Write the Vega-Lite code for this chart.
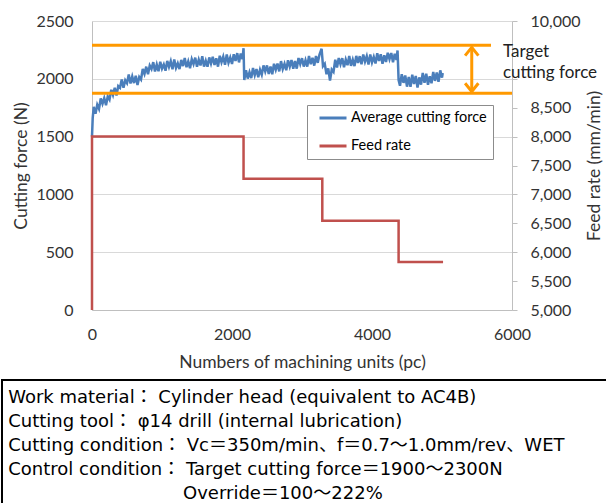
{
  "$schema": "https://vega.github.io/schema/vega-lite/v6.json",
  "padding": {"left": 1, "top": 13, "right": 0, "bottom": 0},
  "background": "white",
  "config": {
    "font": "Lato",
    "view": {"stroke": null},
    "axis": {
      "labelFont": "Lato", "labelFontSize": 16, "labelColor": "#333333",
      "titleFont": "Lato", "titleFontSize": 17.5, "titleFontWeight": "normal", "titleColor": "#333333",
      "domainColor": "#BFBFBF", "gridColor": "#D9D9D9", "tickColor": "#BFBFBF"
    }
  },
  "spacing": 8,
  "vconcat": [
    {
      "spacing": 0,
      "hconcat": [
        {
          "width": 10, "height": 1,
          "view": {"stroke": null},
          "data": {"values": []},
          "mark": "point"
        },
        {
          "width": 420, "height": 289,
          "resolve": {"scale": {"y": "independent"}},
          "layer": [
            {
              "layer": [
                {
                  "data": {"values": [
{"n":0,"f":1500},{"n":10,"f":1660},{"n":25,"f":1758},{"n":50,"f":1698},{"n":75,"f":1775},{"n":100,"f":1740},{"n":125,"f":1830},{"n":150,"f":1783},{"n":175,"f":1833},{"n":200,"f":1772},
{"n":225,"f":1848},{"n":250,"f":1820},{"n":275,"f":1905},{"n":300,"f":1860},{"n":325,"f":1923},{"n":350,"f":1855},{"n":375,"f":1937},{"n":400,"f":1922},{"n":425,"f":1993},{"n":450,"f":1922},
{"n":475,"f":1987},{"n":500,"f":1962},{"n":525,"f":2037},{"n":550,"f":1960},{"n":575,"f":2020},{"n":600,"f":1963},{"n":625,"f":2026},{"n":650,"f":1946},{"n":675,"f":2015},{"n":700,"f":1994},
{"n":725,"f":2085},{"n":750,"f":2042},{"n":775,"f":2105},{"n":800,"f":2039},{"n":825,"f":2115},{"n":850,"f":2085},{"n":875,"f":2144},{"n":900,"f":2064},{"n":925,"f":2123},{"n":950,"f":2065},
{"n":975,"f":2148},{"n":1000,"f":2088},{"n":1025,"f":2124},{"n":1050,"f":2070},{"n":1075,"f":2155},{"n":1100,"f":2103},{"n":1125,"f":2152},{"n":1150,"f":2082},{"n":1175,"f":2168},{"n":1200,"f":2094},
{"n":1225,"f":2133},{"n":1250,"f":2084},{"n":1275,"f":2163},{"n":1300,"f":2110},{"n":1325,"f":2180},{"n":1350,"f":2100},{"n":1375,"f":2151},{"n":1400,"f":2092},{"n":1425,"f":2170},{"n":1450,"f":2128},
{"n":1475,"f":2183},{"n":1500,"f":2104},{"n":1525,"f":2165},{"n":1550,"f":2116},{"n":1575,"f":2195},{"n":1600,"f":2106},{"n":1625,"f":2157},{"n":1650,"f":2104},{"n":1675,"f":2185},{"n":1700,"f":2132},
{"n":1725,"f":2190},{"n":1750,"f":2120},{"n":1775,"f":2178},{"n":1800,"f":2105},{"n":1825,"f":2199},{"n":1850,"f":2143},{"n":1875,"f":2192},{"n":1900,"f":2122},{"n":1925,"f":2211},{"n":1950,"f":2139},
{"n":1975,"f":2184},{"n":2000,"f":2128},{"n":2025,"f":2212},{"n":2050,"f":2154},{"n":2075,"f":2222},{"n":2100,"f":2142},{"n":2125,"f":2218},{"n":2150,"f":2170},{"n":2165,"f":2265},{"n":2175,"f":1990},
{"n":2200,"f":2075},{"n":2225,"f":2002},{"n":2250,"f":2057},{"n":2275,"f":2006},{"n":2300,"f":2094},{"n":2325,"f":2032},{"n":2350,"f":2085},{"n":2375,"f":2013},{"n":2400,"f":2078},{"n":2425,"f":2035},
{"n":2450,"f":2116},{"n":2475,"f":2063},{"n":2500,"f":2116},{"n":2525,"f":2042},{"n":2550,"f":2107},{"n":2575,"f":2040},{"n":2600,"f":2130},{"n":2625,"f":2079},{"n":2650,"f":2132},{"n":2675,"f":2064},
{"n":2700,"f":2153},{"n":2725,"f":2084},{"n":2750,"f":2129},{"n":2775,"f":2074},{"n":2800,"f":2160},{"n":2825,"f":2106},{"n":2850,"f":2162},{"n":2875,"f":2088},{"n":2900,"f":2154},{"n":2925,"f":2088},
{"n":2950,"f":2180},{"n":2975,"f":2128},{"n":3000,"f":2178},{"n":3025,"f":2106},{"n":3050,"f":2161},{"n":3075,"f":2105},{"n":3100,"f":2198},{"n":3125,"f":2126},{"n":3150,"f":2182},{"n":3175,"f":2114},
{"n":3200,"f":2197},{"n":3225,"f":2138},{"n":3250,"f":2210},{"n":3280,"f":2260},{"n":3300,"f":2110},{"n":3325,"f":2130},{"n":3350,"f":2040},{"n":3375,"f":2090},{"n":3400,"f":1985},{"n":3425,"f":2080},
{"n":3450,"f":2060},{"n":3475,"f":2165},{"n":3500,"f":2097},{"n":3525,"f":2180},{"n":3550,"f":2126},{"n":3575,"f":2178},{"n":3600,"f":2100},{"n":3625,"f":2166},{"n":3650,"f":2118},{"n":3675,"f":2198},
{"n":3700,"f":2112},{"n":3725,"f":2166},{"n":3750,"f":2110},{"n":3775,"f":2198},{"n":3800,"f":2138},{"n":3825,"f":2196},{"n":3850,"f":2125},{"n":3875,"f":2210},{"n":3900,"f":2149},{"n":3925,"f":2196},
{"n":3950,"f":2124},{"n":3975,"f":2211},{"n":4000,"f":2142},{"n":4025,"f":2189},{"n":4050,"f":2132},{"n":4075,"f":2221},{"n":4100,"f":2155},{"n":4125,"f":2212},{"n":4150,"f":2131},{"n":4175,"f":2204},
{"n":4200,"f":2146},{"n":4225,"f":2225},{"n":4250,"f":2170},{"n":4275,"f":2223},{"n":4300,"f":2143},{"n":4325,"f":2216},{"n":4350,"f":2164},{"n":4365,"f":2245},{"n":4380,"f":1990},{"n":4400,"f":1940},
{"n":4425,"f":2040},{"n":4450,"f":1965},{"n":4475,"f":2028},{"n":4500,"f":1932},{"n":4525,"f":2015},{"n":4550,"f":1930},{"n":4575,"f":2035},{"n":4600,"f":1955},{"n":4625,"f":2024},{"n":4650,"f":1925},
{"n":4675,"f":2012},{"n":4700,"f":1950},{"n":4725,"f":2050},{"n":4750,"f":1965},{"n":4775,"f":2044},{"n":4800,"f":1948},{"n":4825,"f":2022},{"n":4850,"f":1961},{"n":4875,"f":2060},{"n":4900,"f":1982},
{"n":4925,"f":2055},{"n":4950,"f":1974},{"n":4975,"f":2073},{"n":5000,"f":2010},{"n":5010,"f":2050}
                  ]},
                  "mark": {"type": "line", "strokeWidth": 2.5},
                  "encoding": {
                    "x": {"field": "n", "type": "quantitative",
                      "scale": {"domain": [0, 6000], "nice": false},
                      "axis": {"values": [0, 2000, 4000, 6000], "format": "d", "grid": false, "ticks": false, "tickSize": 0, "labelFlush": false, "labelPadding": 16, "titlePadding": 11, "title": "Numbers of machining units (pc)"}},
                    "y": {"field": "f", "type": "quantitative",
                      "scale": {"domain": [0, 2500], "nice": false},
                      "axis": {"values": [0, 500, 1000, 1500, 2000, 2500], "format": "d", "grid": true, "ticks": false, "tickSize": 0, "labelPadding": 19, "titlePadding": 5, "title": "Cutting force (N)"}},
                    "color": {"datum": "Average cutting force", "type": "nominal",
                      "scale": {"domain": ["Average cutting force", "Feed rate"], "range": ["#4A7EBB", "#C0504D"]},
                      "legend": {"orient": "none", "legendX": 305, "legendY": 84, "title": null,
                        "strokeColor": "#8C8C8C", "fillColor": "white", "padding": 6, "cornerRadius": 0,
                        "symbolType": "stroke", "symbolStrokeWidth": 3, "symbolSize": 729, "symbolOffset": 5,
                        "clipHeight": 14, "rowPadding": 13, "labelOffset": 3,
                        "labelFont": "Lato", "labelFontSize": 14.5, "labelColor": "black"}}
                  }
                },
                {
                  "data": {"values": [{}]},
                  "mark": {"type": "rule", "color": "#FF9900", "strokeWidth": 3},
                  "encoding": {"y": {"datum": 2290}, "x": {"datum": 0}, "x2": {"datum": 5700}}
                },
                {
                  "data": {"values": [{}]},
                  "mark": {"type": "rule", "color": "#FF9900", "strokeWidth": 3},
                  "encoding": {"y": {"datum": 1875}, "x": {"datum": 0}, "x2": {"datum": 6000}}
                },
                {
                  "data": {"values": [{}]},
                  "mark": {"type": "rule", "color": "#FF9900", "strokeWidth": 3},
                  "encoding": {"x": {"datum": 5425}, "y": {"datum": 2272}, "y2": {"datum": 1890}}
                },
                {
                  "data": {"values": [{}]},
                  "mark": {"type": "point", "shape": "M-0.8,1L0,0L0.8,1", "filled": false, "strokeWidth": 3, "size": 276, "color": "#FF9900", "opacity": 1},
                  "encoding": {"x": {"datum": 5425}, "y": {"datum": 2272}}
                },
                {
                  "data": {"values": [{}]},
                  "mark": {"type": "point", "shape": "M-0.8,-1L0,0L0.8,-1", "filled": false, "strokeWidth": 3, "size": 276, "color": "#FF9900", "opacity": 1},
                  "encoding": {"x": {"datum": 5425}, "y": {"datum": 1890}}
                },
                {
                  "data": {"values": [{}]},
                  "mark": {"type": "text", "text": "Target", "align": "left", "baseline": "middle", "font": "Lato", "fontSize": 17, "color": "#222222"},
                  "encoding": {"x": {"datum": 5870}, "y": {"datum": 2234}}
                },
                {
                  "data": {"values": [{}]},
                  "mark": {"type": "text", "text": "cutting force", "align": "left", "baseline": "middle", "font": "Lato", "fontSize": 17, "color": "#222222"},
                  "encoding": {"x": {"datum": 5870}, "y": {"datum": 2046}}
                }
              ]
            },
            {
              "data": {"values": [
                {"i":0,"n":0,"r":5000},{"i":1,"n":0,"r":8000},{"i":2,"n":2165,"r":8000},{"i":3,"n":2165,"r":7270},
                {"i":4,"n":3290,"r":7270},{"i":5,"n":3290,"r":6545},{"i":6,"n":4380,"r":6545},{"i":7,"n":4380,"r":5830},{"i":8,"n":5015,"r":5830}
              ]},
              "mark": {"type": "line", "strokeWidth": 2.5},
              "encoding": {
                "x": {"field": "n", "type": "quantitative"},
                "y": {"field": "r", "type": "quantitative",
                  "scale": {"domain": [5000, 10000], "nice": false},
                  "axis": {"orient": "right", "values": [5000, 5500, 6000, 6500, 7000, 7500, 8000, 8500, 9000, 10000],
                    "labelExpr": "datum.value == 9000 ? '' : format(datum.value, ',')",
                    "grid": false, "ticks": true, "tickSize": 5, "labelPadding": 13,
                    "title": "Feed rate (mm/min)", "titleAngle": 270, "titleBaseline": "top", "titlePadding": 5}},
                "order": {"field": "i"},
                "color": {"datum": "Feed rate", "type": "nominal"}
              }
            }
          ]
        }
      ]
    },
    {
      "width": 620, "height": 132,
      "view": {"stroke": "black", "strokeWidth": 2},
      "layer": [
        {
          "data": {"values": [
            {"line": 1, "text": "Work material： Cylinder head (equivalent to AC4B)"},
            {"line": 2, "text": "Cutting tool： φ14 drill (internal lubrication)"},
            {"line": 3, "text": "Cutting condition： Vc＝350m/min、f＝0.7～1.0mm/rev、WET"},
            {"line": 4, "text": "Control condition： Target cutting force＝1900～2300N"}
          ]},
          "mark": {"type": "text", "align": "left", "baseline": "middle", "font": "DejaVu Sans, Noto Sans CJK JP", "fontSize": 18, "color": "black"},
          "encoding": {
            "y": {"field": "line", "type": "ordinal", "scale": {"type": "point", "padding": 0.75, "domain": [1, 2, 3, 4, 5]}, "axis": null},
            "x": {"datum": 1, "type": "quantitative", "scale": {"domain": [0, 100]}, "axis": null},
            "text": {"field": "text"}
          }
        },
        {
          "data": {"values": [
            {"line": 5, "text": "Override＝100～222%"}
          ]},
          "mark": {"type": "text", "align": "left", "baseline": "middle", "font": "DejaVu Sans, Noto Sans CJK JP", "fontSize": 18, "color": "black"},
          "encoding": {
            "y": {"field": "line", "type": "ordinal", "axis": null},
            "x": {"datum": 29.2, "type": "quantitative", "axis": null},
            "text": {"field": "text"}
          }
        }
      ]
    }
  ]
}
